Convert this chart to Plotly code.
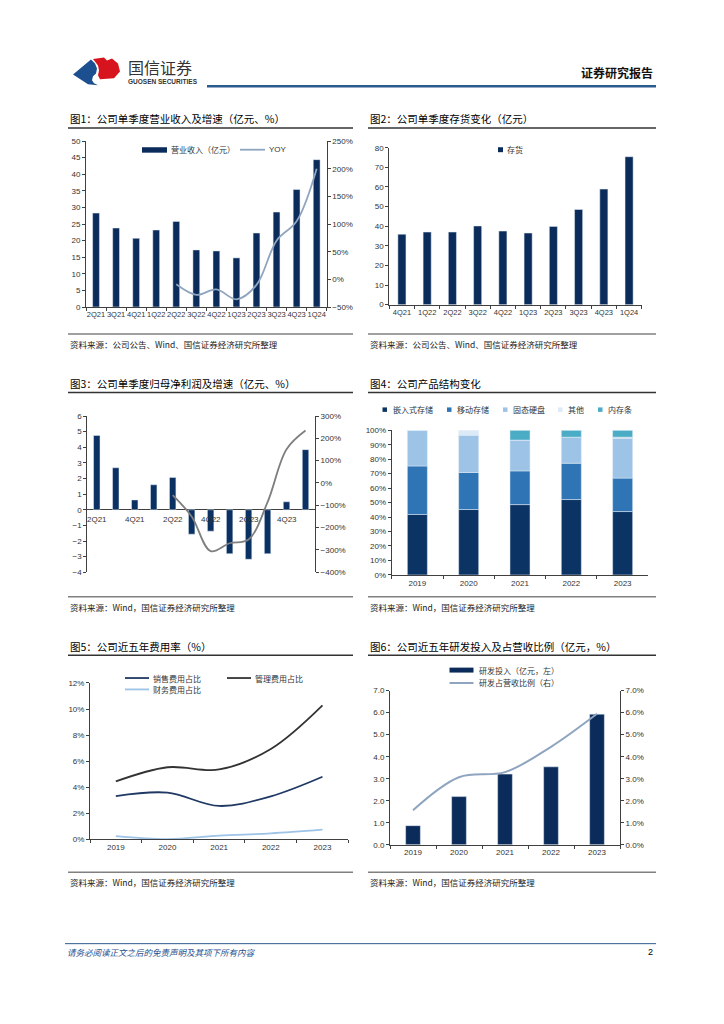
import plotly.graph_objects as go

W, H = 724, 1024

# ---------------- data ----------------
q_cats = ["2Q21", "3Q21", "4Q21", "1Q22", "2Q22", "3Q22", "4Q22", "1Q23", "2Q23", "3Q23", "4Q23", "1Q24"]
rev = [28.3, 23.8, 20.7, 23.2, 25.8, 17.2, 16.9, 14.8, 22.3, 28.6, 35.4, 44.4]
rev_yoy_cats = ["2Q22", "3Q22", "4Q22", "1Q23", "2Q23", "3Q23", "4Q23", "1Q24"]
rev_yoy = [-9, -28, -18, -36, -10, 70, 105, 200]

inv_cats = ["4Q21", "1Q22", "2Q22", "3Q22", "4Q22", "1Q23", "2Q23", "3Q23", "4Q23", "1Q24"]
inv = [35.9, 37.0, 37.0, 40.1, 37.5, 36.5, 39.9, 48.5, 58.9, 75.4]

netp = [4.76, 2.69, 0.63, 1.60, 2.07, -1.56, -1.37, -2.81, -3.17, -2.81, 0.51, 3.85]
netp_yoy_cats = ["2Q22", "3Q22", "4Q22", "1Q23", "2Q23", "3Q23", "4Q23", "1Q24"]
netp_yoy = [-54, -150, -305, -270, -253, -86, 151, 235]
netp_tick_cats = ["2Q21", "4Q21", "2Q22", "4Q22", "2Q23", "4Q23"]

years = ["2019", "2020", "2021", "2022", "2023"]
prod_names = ["嵌入式存储", "移动存储", "固态硬盘", "其他", "内存条"]
emb = [41.8, 45.2, 48.6, 52.1, 43.8]
mob = [33.5, 25.6, 23.3, 25.1, 23.1]
ssd = [24.7, 25.8, 21.3, 18.0, 27.6]
oth = [0.0, 3.4, 0.0, 0.0, 0.7]
mem = [0.0, 0.0, 6.8, 4.8, 4.8]

fee_names = ["销售费用占比", "管理费用占比", "财务费用占比"]
sales = [3.32, 3.58, 2.56, 3.30, 4.80]
admin = [4.44, 5.53, 5.36, 6.93, 10.28]
fin = [0.25, 0.02, 0.28, 0.46, 0.74]

rd = [0.87, 2.19, 3.21, 3.54, 5.93]
rd_ratio = [1.57, 3.07, 3.30, 4.45, 5.95]

titles = ["图1：公司单季度营业收入及增速（亿元、%）", "图2：公司单季度存货变化（亿元）",
          "图3：公司单季度归母净利润及增速（亿元、%）", "图4：公司产品结构变化",
          "图5：公司近五年费用率（%）", "图6：公司近五年研发投入及占营收比例（亿元，%）"]
src1 = "资料来源：公司公告、Wind、国信证券经济研究所整理"
src2 = "资料来源：Wind，国信证券经济研究所整理"

# ---------------- helpers ----------------
def X(p):
    return p / W

def Y(p):
    return 1 - p / H

NAVY = "#0B2C5A"
AX = "#404040"
CJK = "Noto Sans CJK SC"
NUM = "Liberation Sans"

C_EMB, C_MOB, C_SSD, C_OTH, C_MEM = "#0B3364", "#2F74B5", "#9DC3E6", "#DCE9F6", "#4BACC6"
C_SALES, C_ADMIN, C_FIN = "#1F3864", "#333333", "#9DC3E6"
C_YOY = "#8FA5BF"

fig = go.Figure()

# chart 1
fig.add_bar(x=q_cats, y=rev, xaxis="x", yaxis="y", marker_color=NAVY, width=0.34, showlegend=False)
fig.add_scatter(x=rev_yoy_cats, y=rev_yoy, xaxis="x", yaxis="y2", mode="lines",
                line=dict(color=C_YOY, width=1.8, shape="spline", smoothing=1.0), showlegend=False)
# chart 2
fig.add_bar(x=inv_cats, y=inv, xaxis="x2", yaxis="y3", marker_color=NAVY, width=0.32, showlegend=False)
# chart 3
fig.add_bar(x=q_cats, y=netp, xaxis="x3", yaxis="y4", marker_color="#0A3162", width=0.34, showlegend=False)
fig.add_scatter(x=netp_yoy_cats, y=netp_yoy, xaxis="x3", yaxis="y5", mode="lines",
                line=dict(color="#7F7F7F", width=1.8, shape="spline", smoothing=1.0), showlegend=False)
# chart 4
for vals, col in zip([emb, mob, ssd, oth, mem], [C_EMB, C_MOB, C_SSD, C_OTH, C_MEM]):
    fig.add_bar(x=years, y=vals, xaxis="x4", yaxis="y6", marker_color=col, width=0.39, showlegend=False)
# chart 5
for vals, col in zip([sales, admin, fin], [C_SALES, C_ADMIN, C_FIN]):
    fig.add_scatter(x=years, y=vals, xaxis="x5", yaxis="y7", mode="lines",
                    line=dict(color=col, width=1.8, shape="spline", smoothing=1.0), showlegend=False)
# chart 6
fig.add_bar(x=years, y=rd, xaxis="x6", yaxis="y8", marker_color=NAVY, width=0.32, showlegend=False)
fig.add_scatter(x=years, y=rd_ratio, xaxis="x6", yaxis="y9", mode="lines",
                line=dict(color=C_YOY, width=2, shape="spline", smoothing=1.0), showlegend=False)

def ax(**kw):
    d = dict(showgrid=False, zeroline=False, showline=True, linecolor=AX, linewidth=1,
             ticks="outside", ticklen=3, tickcolor=AX, tickangle=0,
             tickfont=dict(size=8, color="#333333", family=NUM))
    d.update(kw)
    return d

small = dict(size=7.5, color="#333333", family=NUM)

layout_axes = dict(
    xaxis=ax(domain=[X(86), X(326.7)], anchor="y", type="category", categoryorder="array",
             categoryarray=q_cats, range=[-0.5, 11.5], tickson="boundaries", tickfont=small),
    yaxis=ax(domain=[Y(305.7), Y(138.3)], anchor="x", range=[0, 50], dtick=5),
    yaxis2=ax(overlaying="y", side="right", anchor="x", range=[-50, 250], dtick=50, ticksuffix="%"),

    xaxis2=ax(domain=[X(389.3), X(641.7)], anchor="y3", type="category", categoryorder="array",
              categoryarray=inv_cats, range=[-0.5, 9.5], tickson="boundaries", tickfont=small),
    yaxis3=ax(domain=[Y(303.3), Y(145)], anchor="x2", range=[0, 80], dtick=10),

    xaxis3=ax(domain=[X(87.3), X(315)], anchor="y4", type="category", categoryorder="array",
              categoryarray=q_cats, range=[-0.5, 11.5], showline=False, ticks="", showticklabels=False),
    yaxis4=ax(domain=[Y(573.3), Y(415.7)], anchor="x3", range=[-4, 6], dtick=1,
              zeroline=True, zerolinecolor=AX, zerolinewidth=1),
    yaxis5=ax(overlaying="y4", side="right", anchor="x3", range=[-400, 300], dtick=100, ticksuffix="%"),

    xaxis4=ax(domain=[X(391.7), X(648.3)], anchor="y6", type="category", range=[-0.5, 4.5],
              tickson="boundaries"),
    yaxis6=ax(domain=[Y(576), Y(430)], anchor="x4", range=[0, 100], dtick=10, ticksuffix="%"),

    xaxis5=ax(domain=[X(90), X(348.3)], anchor="y7", type="category", range=[-0.5, 4.5],
              tickson="boundaries"),
    yaxis7=ax(domain=[Y(842.7), Y(685)], anchor="x5", range=[0, 12], dtick=2, ticksuffix="%"),

    xaxis6=ax(domain=[X(390), X(620)], anchor="y8", type="category", range=[-0.5, 4.5],
              tickson="boundaries"),
    yaxis8=ax(domain=[Y(848.3), Y(692.7)], anchor="x6", range=[0, 7], dtick=1, tickformat=".1f"),
    yaxis9=ax(overlaying="y8", side="right", anchor="x6", range=[0, 7], dtick=1, tickformat=".1f",
              ticksuffix="%"),
)

annotations = []
shapes = []

def text(t, x, y, size=8, color="#333333", xanchor="left", family=CJK, bold=False, italic=False):
    if bold:
        t = "<b>" + t + "</b>"
    if italic:
        t = "<i>" + t + "</i>"
    annotations.append(dict(text=t, x=X(x), y=Y(y), xref="paper", yref="paper", showarrow=False,
                            xanchor=xanchor, yanchor="middle",
                            font=dict(size=size, color=color, family=family)))

def hline(x0, x1, y, color, width):
    shapes.append(dict(type="line", xref="paper", yref="paper", x0=X(x0), x1=X(x1), y0=Y(y), y1=Y(y),
                       line=dict(color=color, width=width)))

def rect(x0, x1, y0, y1, color):
    shapes.append(dict(type="rect", xref="paper", yref="paper", x0=X(x0), x1=X(x1), y0=Y(y0), y1=Y(y1),
                       fillcolor=color, line=dict(width=0)))

def path(pts, color):
    s = "M " + " L ".join(f"{X(a):.5f},{Y(b):.5f}" for a, b in pts) + " Z"
    shapes.append(dict(type="path", xref="paper", yref="paper", path=s, fillcolor=color, line=dict(width=0)))

# header
path([(73, 71), (91, 56), (95, 60), (97, 65), (96, 70), (93, 73), (92, 77), (94, 80), (98, 82), (88, 81)], "#1B4F8F")
path([(93, 55.5), (104, 54), (107, 57), (112, 55), (118, 60), (120, 68), (114, 75), (100, 76),
      (98, 72), (99, 67), (98, 62)], "#D7141E")
text("国信证券", 126, 64, size=16, color="#333333")
text("GUOSEN SECURITIES", 126, 78, size=6.5, color="#333333", family=NUM, bold=True)
text("证券研究报告", 655, 69, size=12, color="#111111", xanchor="right", bold=True)
hline(207, 656, 83, "#2B5A8C", 2.5)

# titles, underlines, sources
tpos = [(68, 116, 125, 353), (368, 116, 125, 656), (68, 383, 392, 353), (368, 383, 392, 656),
        (68, 648, 657, 353), (368, 648, 657, 656)]
for t, (x0, ty, uy, x1) in zip(titles, tpos):
    text(t, x0, ty, size=10.5, color="#000000")
    hline(x0, x1, uy, "#333333", 1.5)
for (x0, x1), (ly, sy, s) in [((68, 353), (333, 343, src1)), ((368, 656), (333, 343, src1)),
                              ((68, 353), (598, 608, src2)), ((368, 656), (598, 608, src2)),
                              ((68, 353), (876, 886, src2)), ((368, 656), (876, 886, src2))]:
    hline(x0, x1, ly, "#808080", 1.5)
    text(s, x0, sy, size=8.5, color="#222222")

# chart 1 legend
rect(142, 167, 144.5, 150, NAVY)
text("营业收入（亿元）", 169, 147, size=8)
hline(240, 265, 147, C_YOY, 1.8)
text("YOY", 267, 147, size=8, family=NUM)

# chart 2 legend
rect(498, 503, 144.5, 149.5, NAVY)
text("存货", 505, 147, size=8)

# chart 3 category labels on zero line
for c in netp_tick_cats:
    annotations.append(dict(text=c, x=c, y=0, xref="x3", yref="y4", showarrow=False, yshift=-10,
                            font=dict(size=8, color="#333333", family=NUM)))

# chart 4 legend
for name, col, sx in zip(prod_names, [C_EMB, C_MOB, C_SSD, C_OTH, C_MEM], [382.5, 447, 503, 558, 598]):
    rect(sx, sx + 4.5, 407, 411.5, col)
    text(name, sx + 8, 409.3, size=8)

# chart 5 legend
for name, col, (lx, ly) in zip(fee_names, [C_SALES, C_ADMIN, C_FIN], [(125, 680), (227, 680), (125, 691.5)]):
    hline(lx, lx + 24, ly, col, 1.8)
    text(name, lx + 26, ly, size=8)

# chart 6 legend
rect(449.5, 473.5, 669.5, 674.5, NAVY)
text("研发投入（亿元，左）", 477, 672, size=8)
hline(449.5, 473.5, 685, C_YOY, 2)
text("研发占营收比例（右）", 477, 685, size=8)

# footer
hline(65, 656, 948, "#2B5A8C", 1)
text("请务必阅读正文之后的免责声明及其项下所有内容", 65, 956, size=8.5, color="#1F4E8C", italic=True)
text("2", 655, 956, size=9, color="#000000", xanchor="right", family=NUM)

fig.update_layout(width=W, height=H, margin=dict(l=0, r=0, t=0, b=0),
                  paper_bgcolor="white", plot_bgcolor="white", barmode="relative",
                  showlegend=False, annotations=annotations, shapes=shapes, **layout_axes)

fig.write_html("out.html", config={"displayModeBar": False},
               post_script="document.body.style.margin='0px';document.body.style.padding='0px';")
